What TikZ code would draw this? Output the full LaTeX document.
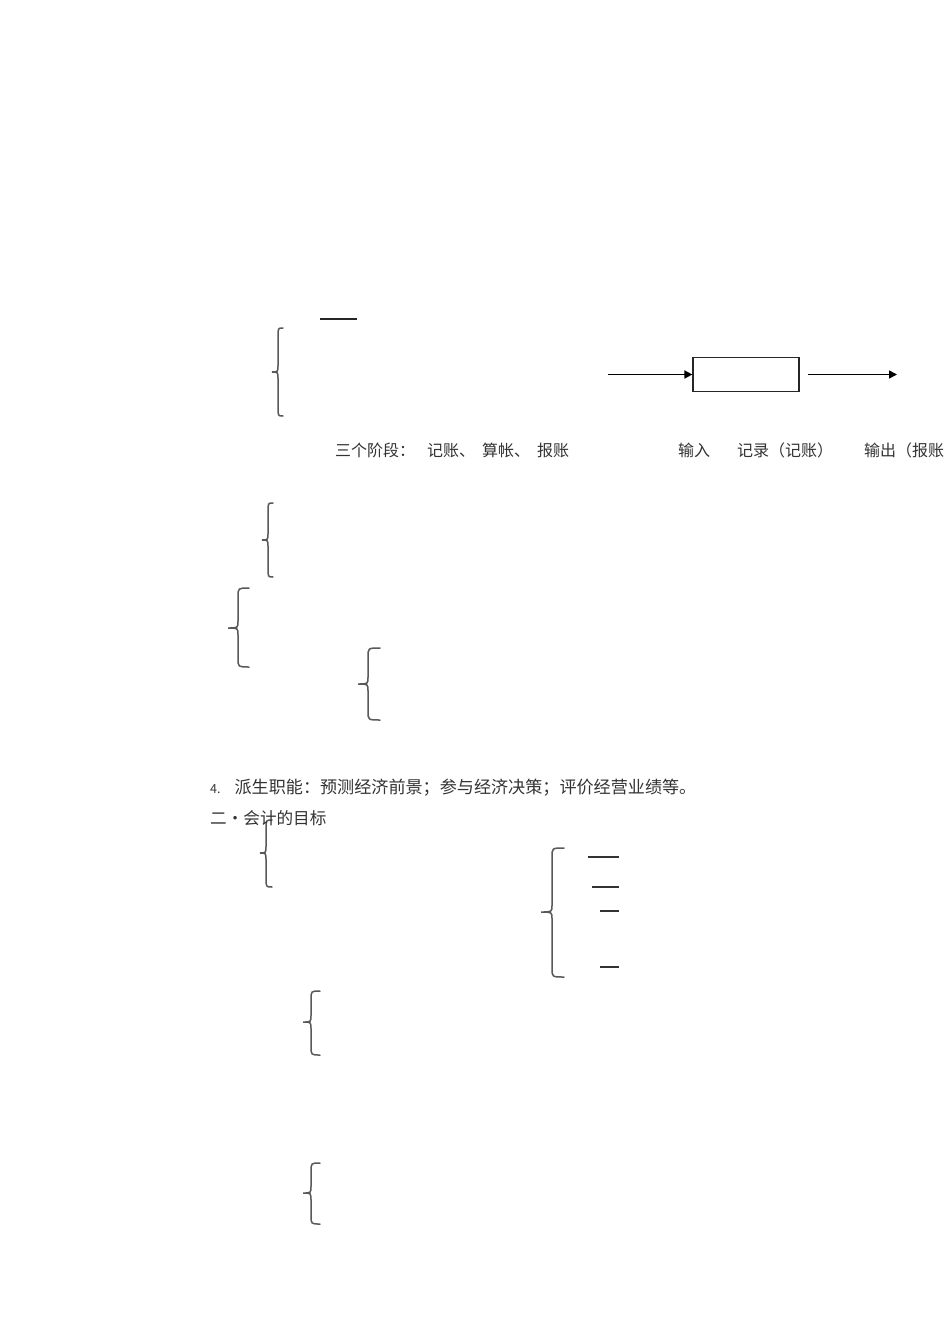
\documentclass[tikz,border=0pt]{standalone}
\usepackage{fontspec}
\setmainfont{Noto Sans CJK SC}
\usetikzlibrary{arrows.meta}
\newcommand\mybrace[6]{%
  \draw[bracestyle] ({#3},{#4}) .. controls ({#2},{#4}) .. ({#2},{#4+9})
    -- ({#2},{#5-7}) .. controls ({#2},{#5}) .. ({#1},{#5})
    .. controls ({#2},{#5}) .. ({#2},{#5+7})
    -- ({#2},{#6-9}) .. controls ({#2},{#6}) .. ({#3},{#6});}
\tikzset{
  bracestyle/.style={draw=black!65, line width=1.5pt, line cap=round},
  txt/.style={anchor=west, inner sep=0pt, font=\fontsize{16}{18}\selectfont, text=black!80},
  arrowline/.style={draw=black, line width=1.6pt, -{Triangle[length=8pt,width=8pt]}},
  dashline/.style={draw=black!80, line width=1.2pt},
  boxstyle/.style={draw=black!85, line width=1.2pt, minimum width=106pt, minimum height=34pt, inner sep=0pt}
}
\begin{document}
\begin{tikzpicture}[x=1pt,y=-1pt]
\useasboundingbox (0,0) rectangle (950,1343);
\clip (0,0) rectangle (950,1343);
\fill[white] (0,0) rectangle (950,1343);
% top short line
\coordinate (l1a) at (320,319);
\coordinate (l1b) at (357,319);
\draw[line width=1.6pt, draw=black!85] (l1a) -- (l1b);
% braces
\mybrace{272}{278}{283}{328}{372}{416}
\mybrace{262}{268}{273}{503}{540}{577}
\mybrace{228}{238}{249}{588}{628}{667}
\mybrace{358}{368}{380}{648}{684}{720}
\mybrace{260}{266}{272}{820}{853}{887}
\mybrace{541}{552}{564}{848}{912}{977}
\mybrace{303}{311}{320}{991}{1022}{1055}
\mybrace{303}{311}{320}{1163}{1193}{1224}
% flow box
\node[boxstyle] (box) at (746,374.5) {};
\coordinate (in0) at (608,374.5);
\coordinate (out0) at (808,374.5);
\coordinate (out1) at (897,374.5);
\draw[arrowline] (in0) -- (box.west);
\draw[arrowline] (out0) -- (out1);
% texts
\node[txt] (t1) at (335,450) {三个阶段：\hspace{12pt}记账、\hspace{7pt}算帐、\hspace{7pt}报账};
\node[txt] (t2) at (678,450) {输入};
\node[txt] (t3) at (737,450) {记录（记账）};
\node[txt] (t4) at (864,450) {输出（报账};
\node[txt] (t5) at (210,788) {{\fontsize{12.5}{12}\selectfont 4.}\hspace{14pt}{\fontsize{17.1}{18}\selectfont 派生职能：预测经济前景；参与经济决策；评价经营业绩等。}};
\node[txt, font=\fontsize{16.6}{18}\selectfont] (t6) at (210,818) {二・会计的目标};
% dashes
\coordinate (d1a) at (588,857); \coordinate (d1b) at (619,857);
\coordinate (d2a) at (592,887); \coordinate (d2b) at (619,887);
\coordinate (d3a) at (600,911); \coordinate (d3b) at (619,911);
\coordinate (d4a) at (600,967); \coordinate (d4b) at (619,967);
\draw[dashline] (d1a) -- (d1b);
\draw[dashline] (d2a) -- (d2b);
\draw[dashline] (d3a) -- (d3b);
\draw[dashline] (d4a) -- (d4b);
\end{tikzpicture}
\end{document}
